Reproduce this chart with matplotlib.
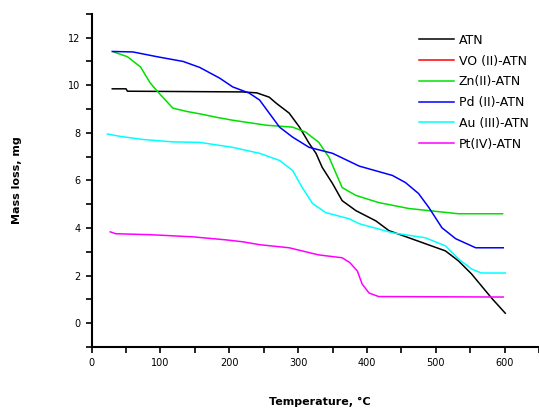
import numpy as np
import matplotlib
matplotlib.use("Agg")
import matplotlib.pyplot as plt
from matplotlib.ticker import MultipleLocator

plt.rcParams['font.family'] = ['DejaVu Sans']

# Series (temperature in degC, mass loss in mg)
atn_t = [30, 50, 52, 219, 240, 258, 268, 287, 302, 316, 326, 335, 350, 364, 384, 413, 432, 485, 514, 533, 552, 581, 601]
atn_m = [9.85, 9.85, 9.75, 9.72, 9.68, 9.5, 9.25, 8.83, 8.24, 7.56, 7.14, 6.55, 5.87, 5.15, 4.73, 4.3, 3.89, 3.34, 3.04, 2.62, 2.07, 1.06, 0.42]

vo_t = []
vo_m = []

zn_t = [32, 52, 71, 85, 100, 118, 138, 157, 182, 205, 254, 292, 311, 330, 345, 355, 364, 384, 417, 461, 533, 597]
zn_m = [11.4, 11.2, 10.77, 10.1, 9.6, 9.04, 8.9, 8.8, 8.65, 8.53, 8.32, 8.24, 8.03, 7.6, 6.97, 6.3, 5.7, 5.37, 5.07, 4.82, 4.6, 4.6]

pd_t = [30, 60, 95, 133, 157, 186, 205, 229, 244, 258, 273, 292, 316, 350, 389, 437, 456, 475, 490, 509, 529, 558, 598]
pd_m = [11.42, 11.4, 11.2, 11.0, 10.75, 10.3, 9.93, 9.67, 9.38, 8.83, 8.24, 7.82, 7.39, 7.14, 6.6, 6.21, 5.91, 5.45, 4.86, 4.01, 3.55, 3.17, 3.17]

au_t = [23, 42, 75, 118, 157, 205, 244, 273, 292, 306, 321, 340, 374, 389, 437, 485, 514, 533, 552, 566, 601]
au_m = [7.95, 7.85, 7.72, 7.62, 7.6, 7.39, 7.14, 6.84, 6.42, 5.7, 5.03, 4.65, 4.39, 4.18, 3.8, 3.59, 3.25, 2.7, 2.28, 2.11, 2.11]

pt_t = [27, 35, 85, 147, 196, 220, 244, 287, 330, 364, 375, 386, 393, 403, 417, 598]
pt_m = [3.84, 3.76, 3.72, 3.63, 3.5, 3.42, 3.3, 3.17, 2.87, 2.75, 2.55, 2.2, 1.65, 1.27, 1.12, 1.1]

series = [
    ("ATN", atn_t, atn_m, "black"),
    ("VO (II)-ATN", vo_t, vo_m, "red"),
    ("Zn(II)-ATN", zn_t, zn_m, "#00e000"),
    ("Pd (II)-ATN", pd_t, pd_m, "blue"),
    ("Au (III)-ATN", au_t, au_m, "cyan"),
    ("Pt(IV)-ATN", pt_t, pt_m, "magenta"),
]

fig = plt.figure(figsize=(5.39, 4.08), dpi=100)
ax = fig.add_axes([0.17, 0.1495, 0.83, 0.8165])

for label, t, m, c in series:
    ax.plot(t, m, color=c, linewidth=1.1, label=label)

ax.set_xlim(0, 650)
ax.set_ylim(-1, 13)
ax.xaxis.set_major_locator(MultipleLocator(100))
ax.xaxis.set_minor_locator(MultipleLocator(50))
ax.yaxis.set_major_locator(MultipleLocator(2))
ax.yaxis.set_minor_locator(MultipleLocator(1))

ax.spines['top'].set_visible(False)
ax.spines['right'].set_visible(False)
ax.spines['left'].set_linewidth(1.5)
ax.spines['bottom'].set_linewidth(1.5)
ax.tick_params(which='both', direction='out', length=4.5, width=1.2, labelsize=7, pad=3.5)

ax.set_xlabel("Temperature, °C", fontsize=8, fontweight='bold')
ax.set_ylabel("Mass loss, mg", fontsize=8, fontweight='bold')
ax.xaxis.set_label_coords(0.51, -0.15)
ax.yaxis.set_label_coords(-0.155, 0.5)

fig.legend(loc='upper left', bbox_to_anchor=(0.777, 0.917), frameon=False,
           fontsize=9, handlelength=2.8, handletextpad=0.4, labelspacing=0.62,
           borderpad=0, borderaxespad=0)

fig.savefig("out.png", dpi=100)
